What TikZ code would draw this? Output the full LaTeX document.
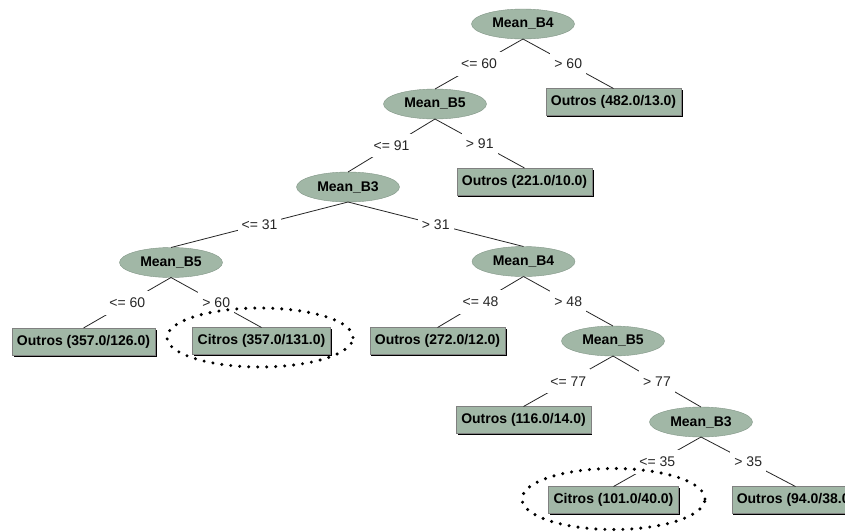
\documentclass[tikz,border=0pt]{standalone}
\usepackage{fontspec}
\setmainfont{Liberation Sans}
\usetikzlibrary{shapes.geometric,shadows}
\definecolor{wekagreen}{RGB}{161,183,166}
\definecolor{wekaedge}{RGB}{130,150,135}
\begin{document}
\begin{tikzpicture}[x=1pt, y=-1pt,
  split/.style={ellipse, fill=wekagreen, draw=wekaedge, minimum width=103pt,
    minimum height=30pt, inner sep=0pt, outer sep=0pt,
    font=\fontsize{14}{16}\selectfont\bfseries},
  leaf/.style={rectangle, fill=wekagreen, draw=gray, minimum height=27pt,
    inner xsep=5pt, inner ysep=0pt, outer sep=0pt,
    drop shadow={shadow xshift=1.6pt, shadow yshift=-1.6pt, fill=black, opacity=1},
    font=\fontsize{14}{16}\selectfont\bfseries},
  cond/.style={fill=white, inner xsep=4pt, inner ysep=7pt,
    font=\fontsize{14}{16}\selectfont},
  edge/.style={line width=0.8pt, black!85},
  ring/.style={line width=3.4pt, dash pattern=on 0pt off 9pt, line cap=round}]
%frame
  \clip (0,0) rectangle (845,531);
  \fill[white] (0,0) rectangle (845,531);

%splits
  \node[split] (B4a) at (523,24) {Mean\_B4};
  \node[split] (B5a) at (435,104) {Mean\_B5};
  \node[split] (B3a) at (348,187) {Mean\_B3};
  \node[split] (B5b) at (171,262.5) {Mean\_B5};
  \node[split] (B4b) at (523.5,261.5) {Mean\_B4};
  \node[split] (B5c) at (613,341) {Mean\_B5};
  \node[split] (B3b) at (701,422) {Mean\_B3};

%leaves
  \node[leaf] (O1) at (613.5,102) {Outros (482.0/13.0)};
  \node[leaf] (O2) at (524.5,181.5) {Outros (221.0/10.0)};
  \node[leaf] (O3) at (83.5,341.5) {Outros (357.0/126.0)};
  \node[leaf] (C1) at (261.5,341) {Citros (357.0/131.0)};
  \node[leaf] (O4) at (437.5,341) {Outros (272.0/12.0)};
  \node[leaf] (O5) at (523.5,420) {Outros (116.0/14.0)};
  \node[leaf] (C2) at (613.5,500) {Citros (101.0/40.0)};
  \node[leaf] (O6) at (795.5,500) {Outros (94.0/38.0)};

%branches
  \draw[edge] (B4a.south) -- node[cond] {<= 60} (B5a.north);
  \draw[edge] (B4a.south) -- node[cond] {> 60} (O1.north);
  \draw[edge] (B5a.south) -- node[cond] {<= 91} (B3a.north);
  \draw[edge] (B5a.south) -- node[cond] {> 91} (O2.north);
  \draw[edge] (B3a.south) -- node[cond] {<= 31} (B5b.north);
  \draw[edge] (B3a.south) -- node[cond] {> 31} (B4b.north);
  \draw[edge] (B5b.south) -- node[cond] {<= 60} (O3.north);
  \draw[edge] (B5b.south) -- node[cond] {> 60} (C1.north);
  \draw[edge] (B4b.south) -- node[cond] {<= 48} (O4.north);
  \draw[edge] (B4b.south) -- node[cond] {> 48} (B5c.north);
  \draw[edge] (B5c.south) -- node[cond] {<= 77} (O5.north);
  \draw[edge] (B5c.south) -- node[cond] {> 77} (B3b.north);
  \draw[edge] (B3b.south) -- node[cond] {<= 35} (C2.north);
  \draw[edge] (B3b.south) -- node[cond] {> 35} (O6.north);

%marked leaves
  \draw[ring] (260,337.5) ellipse [x radius=93pt, y radius=29.5pt];
  \draw[ring] (613.5,499) ellipse [x radius=91.5pt, y radius=30.5pt];
\end{tikzpicture}
\end{document}
